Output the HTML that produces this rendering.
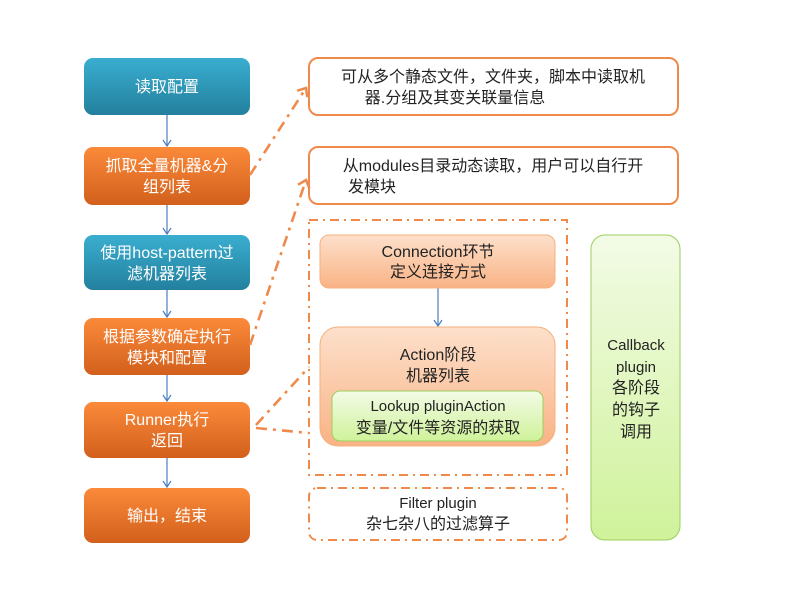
<!DOCTYPE html>
<html><head><meta charset="utf-8"><style>
body{margin:0;background:#fff;width:789px;height:592px;overflow:hidden}
svg text{font-family:"Liberation Sans","Noto Sans CJK SC",sans-serif;font-size:16px;text-anchor:middle}
</style></head><body>
<svg width="789" height="592" viewBox="0 0 789 592" xmlns="http://www.w3.org/2000/svg">
<defs>
<linearGradient id="teal" x1="0" y1="0" x2="0" y2="1"><stop offset="0" stop-color="#3aaed0"/><stop offset="1" stop-color="#23809e"/></linearGradient>
<linearGradient id="org" x1="0" y1="0" x2="0" y2="1"><stop offset="0" stop-color="#fb8a3a"/><stop offset="1" stop-color="#d2601c"/></linearGradient>
<linearGradient id="peach" x1="0" y1="0" x2="0" y2="1"><stop offset="0" stop-color="#fde0cb"/><stop offset="1" stop-color="#f9b385"/></linearGradient>
<linearGradient id="grn" x1="0" y1="0" x2="0" y2="1"><stop offset="0" stop-color="#f3fbe6"/><stop offset="1" stop-color="#cff29a"/></linearGradient>
<marker id="ba" markerWidth="12" markerHeight="12" refX="8" refY="6" orient="auto" markerUnits="userSpaceOnUse"><path d="M2,2 L8,6 L2,10" fill="none" stroke="#4a7ec0" stroke-width="1.2"/></marker>
<marker id="oa" markerWidth="14" markerHeight="14" refX="8" refY="7" orient="auto" markerUnits="userSpaceOnUse"><path d="M1,1 L8,7 L1,13" fill="none" stroke="#f08a4b" stroke-width="2.5"/></marker>
</defs>
<g stroke="#4a7ec0" stroke-width="1.2" marker-end="url(#ba)">
<line x1="167" y1="115" x2="167" y2="146"/>
<line x1="167" y1="205" x2="167" y2="234"/>
<line x1="167" y1="290" x2="167" y2="317"/>
<line x1="167" y1="375" x2="167" y2="401"/>
<line x1="167" y1="458" x2="167" y2="487"/>
<line x1="438" y1="288" x2="438" y2="326"/>
</g>
<g>
<rect x="84" y="58" width="166" height="57" rx="9" fill="url(#teal)"/>
<rect x="84" y="147" width="166" height="58" rx="9" fill="url(#org)"/>
<rect x="84" y="235" width="166" height="55" rx="9" fill="url(#teal)"/>
<rect x="84" y="318" width="166" height="57" rx="9" fill="url(#org)"/>
<rect x="84" y="402" width="166" height="56" rx="9" fill="url(#org)"/>
<rect x="84" y="488" width="166" height="55" rx="9" fill="url(#org)"/>
</g>
<g fill="#fff">
<text x="167" y="92">读取配置</text>
<text x="167" y="171">抓取全量机器&amp;分</text><text x="167" y="192">组列表</text>
<text x="167" y="258">使用host-pattern过</text><text x="167" y="279">滤机器列表</text>
<text x="167" y="342">根据参数确定执行</text><text x="167" y="363">模块和配置</text>
<text x="167" y="425">Runner执行</text><text x="167" y="446">返回</text>
<text x="167" y="521">输出，结束</text>
</g>
<rect x="309" y="58" width="369" height="57" rx="9" fill="#fff" stroke="#f08a4b" stroke-width="2"/>
<text x="493" y="82" fill="#222">可从多个静态文件，文件夹，脚本中读取机</text>
<text x="455" y="103" fill="#222">器.分组及其变关联量信息</text>
<rect x="309" y="147" width="369" height="57" rx="9" fill="#fff" stroke="#f08a4b" stroke-width="2"/>
<text x="493" y="171" fill="#222">从modules目录动态读取，用户可以自行开</text>
<text x="348" y="192" fill="#222" style="text-anchor:start">发模块</text>
<g fill="none" stroke="#f08a4b" stroke-width="2" stroke-dasharray="9,5,2,5">
<rect x="309" y="220" width="258" height="255"/>
<rect x="309" y="488" width="258" height="52" rx="8"/>
</g>
<g fill="none" stroke="#f08a4b" stroke-width="2.6" stroke-dasharray="11,6,3,6">
<path d="M250,175 L306,88" marker-end="url(#oa)"/>
<path d="M250,345 L306,180" marker-end="url(#oa)"/>
<path d="M256,425 L309,367"/>
<path d="M256,428 L309,433"/>
</g>
<rect x="320" y="235" width="235" height="53" rx="9" fill="url(#peach)" stroke="#f4b07e"/>
<text x="438" y="257" fill="#222">Connection环节</text>
<text x="438" y="277" fill="#222">定义连接方式</text>
<rect x="320" y="327" width="235" height="119" rx="18" fill="url(#peach)" stroke="#f4b07e"/>
<text x="438" y="360" fill="#222">Action阶段</text>
<text x="438" y="381" fill="#222">机器列表</text>
<rect x="332" y="391" width="211" height="50" rx="8" fill="url(#grn)" stroke="#9ccf5c"/>
<text x="438" y="411" fill="#222" style="font-size:15px">Lookup pluginAction</text>
<text x="438" y="433" fill="#222">变量/文件等资源的获取</text>
<text x="438" y="508" fill="#222" style="font-size:15px">Filter plugin</text>
<text x="438" y="529" fill="#222">杂七杂八的过滤算子</text>
<rect x="591" y="235" width="89" height="305" rx="14" fill="url(#grn)" stroke="#9ccf5c"/>
<g fill="#222"><text x="636" y="350" style="font-size:15px">Callback</text>
<text x="636" y="372" style="font-size:15px">plugin</text>
<text x="636" y="393">各阶段</text><text x="636" y="415">的钩子</text><text x="636" y="437">调用</text></g>
</svg>
</body></html>
